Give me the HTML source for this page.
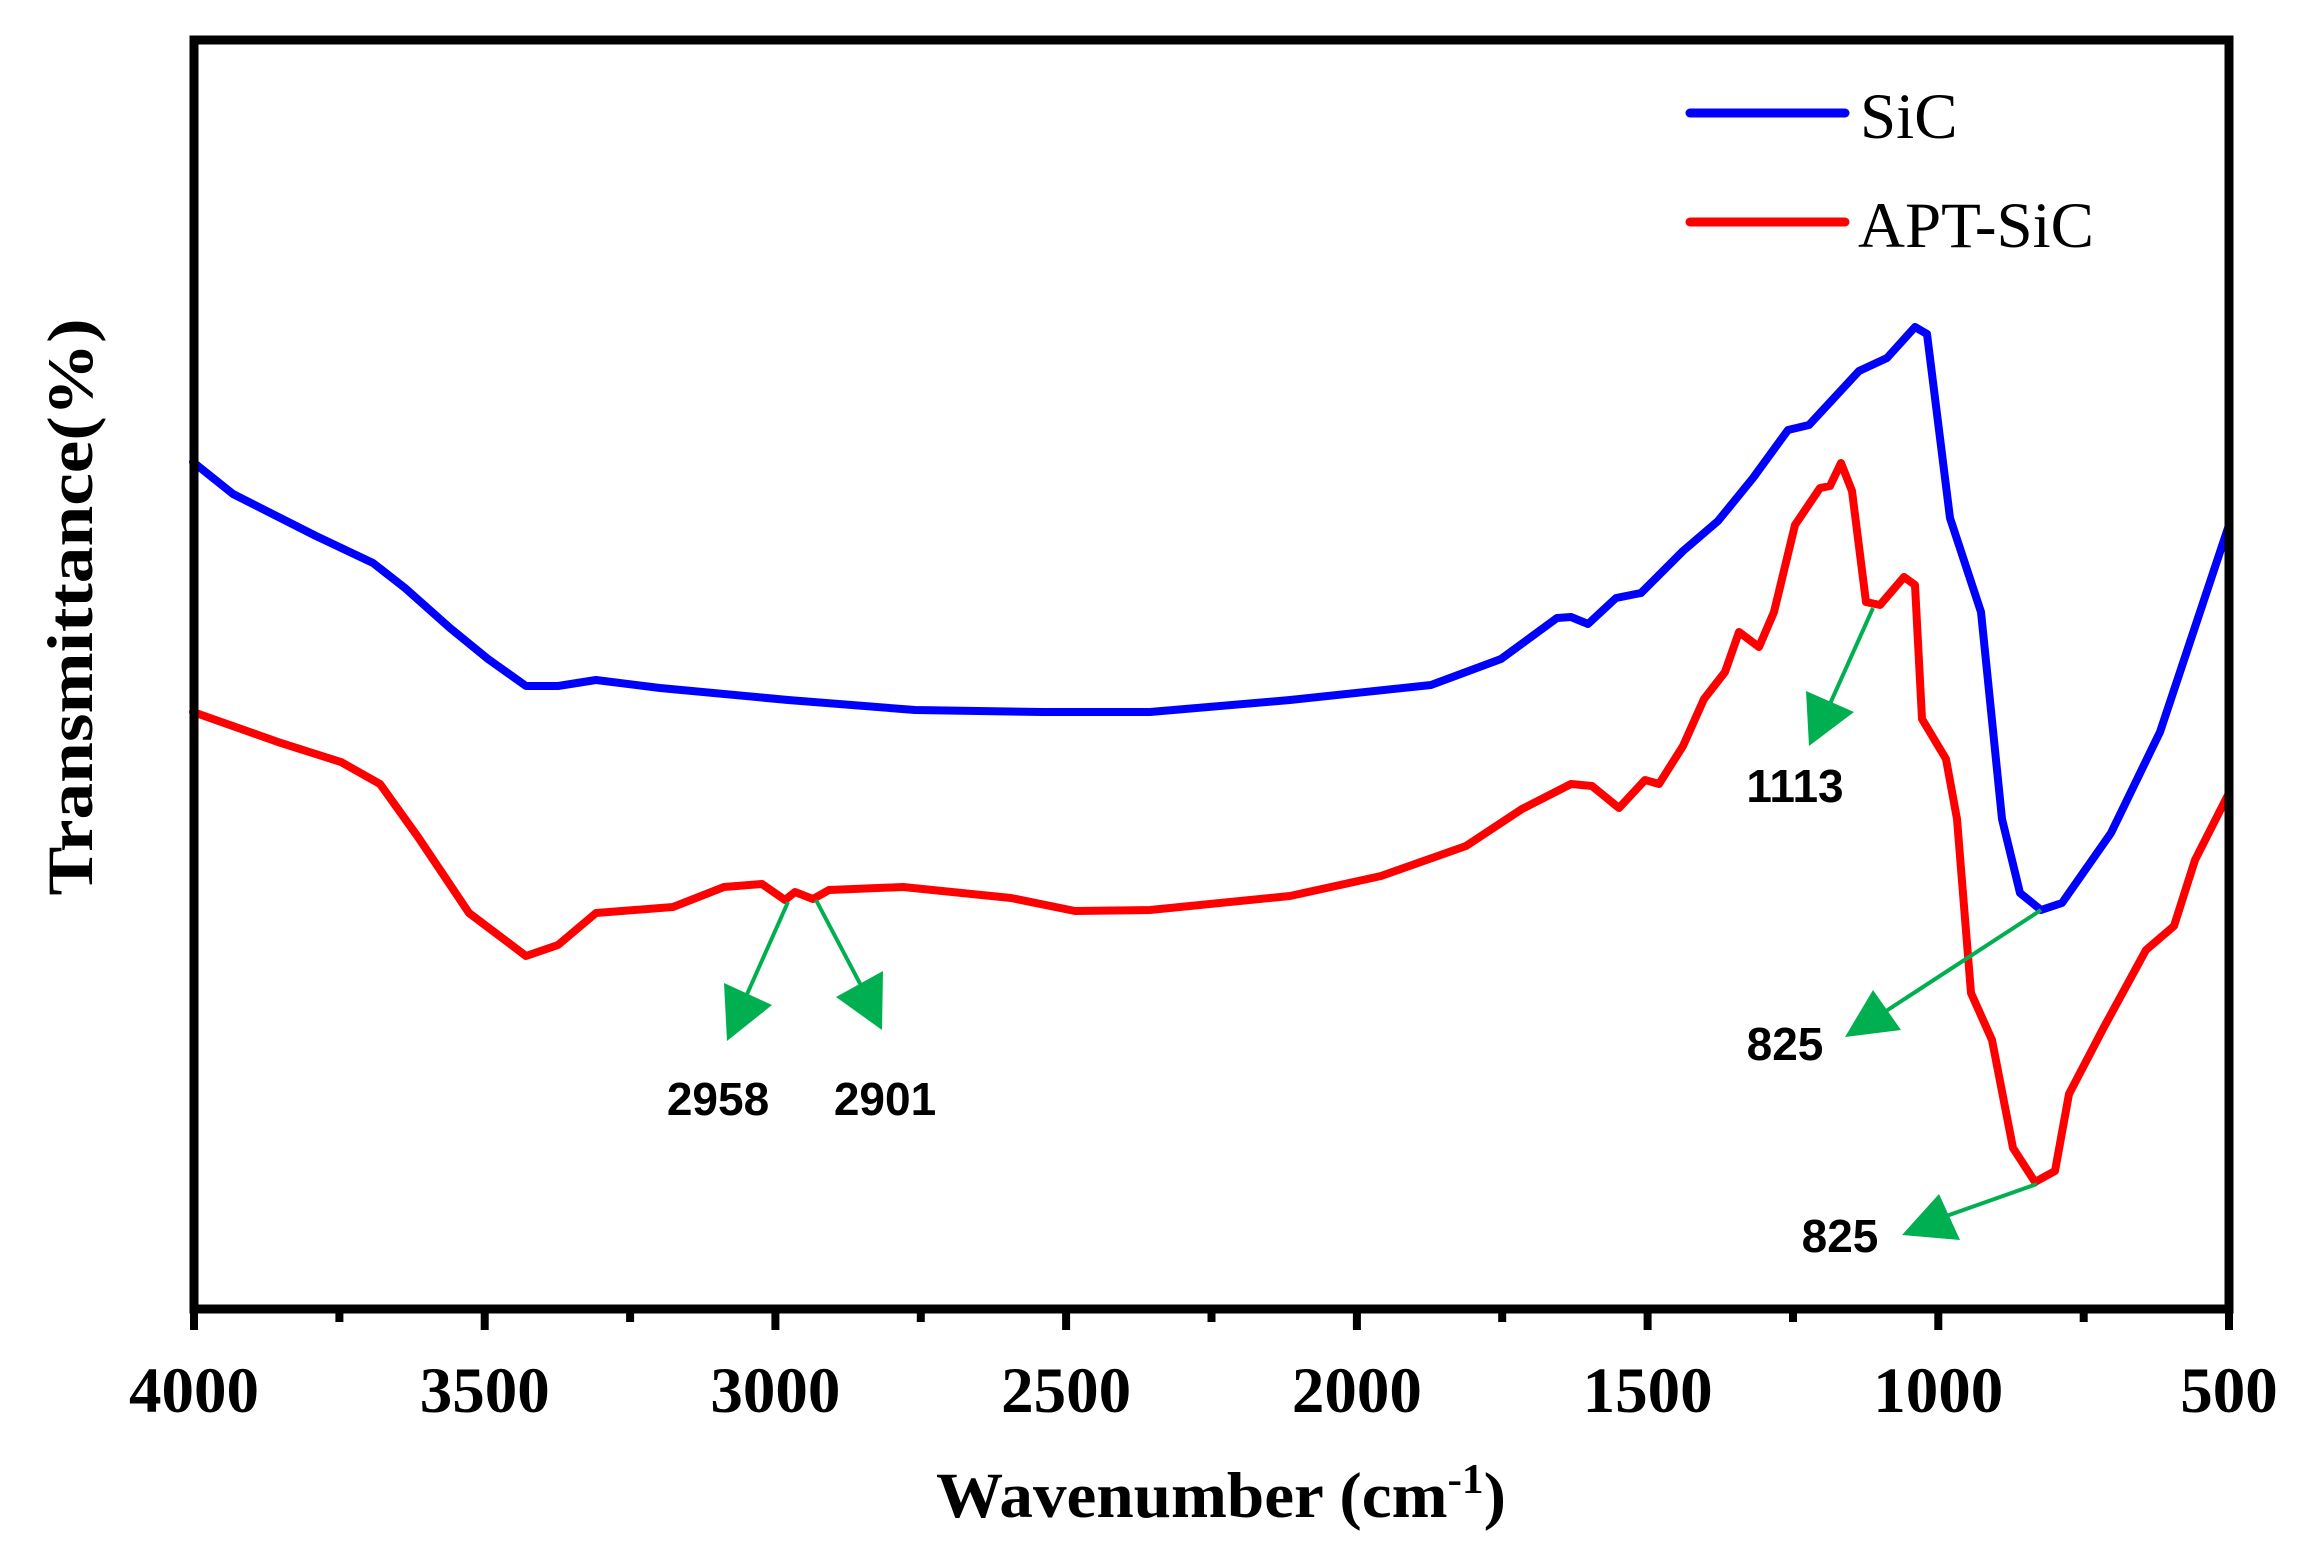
<!DOCTYPE html>
<html><head><meta charset="utf-8"><style>html,body{margin:0;padding:0;background:#fff}svg{display:block}</style></head>
<body>
<svg width="2309" height="1553" viewBox="0 0 2309 1553" xmlns="http://www.w3.org/2000/svg">
<rect width="2309" height="1553" fill="#fff"/>
<!-- curves -->
<polyline fill="none" stroke="#0000ff" stroke-width="8" stroke-linejoin="round" stroke-linecap="round"
points="193,462 233,494 316,536 373,563 405,588 450,628 488,659 526,686 558,686 596,680 660,688 788,700 915,710 1043,712 1150,712 1290,700 1431,685 1501,659 1557,618 1571,617 1588,624 1616,598 1641,593 1683,551 1718,521 1753,478 1788,430 1809,425 1859,371 1887,358 1915,327 1927,334 1950,518 1981,612 2002,819 2020,893 2041,910 2062,903 2111,833 2160,732 2229,525"/>
<polyline fill="none" stroke="#ff0000" stroke-width="8" stroke-linejoin="round" stroke-linecap="round"
points="193,712 278,742 341,762 380,784 418,837 469,913 526,956 558,945 596,913 673,907 724,887 762,884 785,900 795,892 813,899 829,890 903,887 1011,898 1075,911 1150,910 1290,896 1381,876 1466,846 1522,809 1571,784 1592,786 1619,808 1645,780 1659,784 1683,746 1704,699 1725,672 1739,632 1759,647 1774,612 1795,525 1820,488 1830,486 1841,463 1852,491 1866,602 1880,605 1904,577 1915,585 1922,719 1946,759 1957,819 1971,993 1992,1040 2013,1148 2035,1182 2055,1171 2069,1094 2104,1027 2146,950 2174,926 2195,860 2229,793"/>
<!-- arrows -->
<g stroke="#00b050" stroke-width="4" fill="#00b050">
<line x1="788" y1="902" x2="740" y2="1010"/><polygon points="727,1041 724,983 772,1005" stroke="none"/>
<line x1="816" y1="900" x2="866" y2="995"/><polygon points="882,1030 836,997 883,971" stroke="none"/>
<line x1="1873" y1="608" x2="1825" y2="715"/><polygon points="1809,746 1806,691 1854,712" stroke="none"/>
<line x1="2041" y1="910" x2="1880" y2="1015"/><polygon points="1845,1037 1873,990 1901,1030" stroke="none"/>
<line x1="2037" y1="1184" x2="1935" y2="1220"/><polygon points="1902,1235 1939,1194 1960,1240" stroke="none"/>
</g>
<g font-family="'Liberation Sans',Arial,sans-serif" font-weight="bold" font-size="46" text-anchor="middle" fill="#000">
<text x="718" y="1115">2958</text>
<text x="885" y="1115">2901</text>
<text x="1795" y="802">1113</text>
<text x="1785" y="1060">825</text>
<text x="1840" y="1252">825</text>
</g>
<!-- axes -->
<rect x="194" y="40" width="2035" height="1269" fill="none" stroke="#000" stroke-width="9"/>
<g stroke="#000" stroke-width="8">
<line x1="194" y1="1309" x2="194" y2="1330"/><line x1="484.7" y1="1309" x2="484.7" y2="1330"/><line x1="775.4" y1="1309" x2="775.4" y2="1330"/><line x1="1066.1" y1="1309" x2="1066.1" y2="1330"/><line x1="1356.9" y1="1309" x2="1356.9" y2="1330"/><line x1="1647.6" y1="1309" x2="1647.6" y2="1330"/><line x1="1938.3" y1="1309" x2="1938.3" y2="1330"/><line x1="2229" y1="1309" x2="2229" y2="1330"/>
<line x1="339.4" y1="1309" x2="339.4" y2="1322"/><line x1="630.1" y1="1309" x2="630.1" y2="1322"/><line x1="920.8" y1="1309" x2="920.8" y2="1322"/><line x1="1211.5" y1="1309" x2="1211.5" y2="1322"/><line x1="1502.2" y1="1309" x2="1502.2" y2="1322"/><line x1="1793" y1="1309" x2="1793" y2="1322"/><line x1="2083.7" y1="1309" x2="2083.7" y2="1322"/>
</g>
<g font-family="'Liberation Serif','Times New Roman',serif" font-weight="bold" font-size="65" text-anchor="middle" fill="#000">
<text x="194" y="1412">4000</text><text x="484.7" y="1412">3500</text><text x="775.4" y="1412">3000</text><text x="1066.1" y="1412">2500</text><text x="1356.9" y="1412">2000</text><text x="1647.6" y="1412">1500</text><text x="1938.3" y="1412">1000</text><text x="2229" y="1412">500</text>
<text x="1221" y="1517" textLength="570" lengthAdjust="spacingAndGlyphs">Wavenumber  (cm<tspan font-size="42" dy="-24">-1</tspan><tspan dy="24">)</tspan></text>
<text transform="translate(92,607) rotate(-90)" x="0" y="0" textLength="577" lengthAdjust="spacingAndGlyphs">Transmittance(%)</text>
</g>
<!-- legend -->
<line x1="1690" y1="113" x2="1845" y2="113" stroke="#0000ff" stroke-width="9" stroke-linecap="round"/>
<line x1="1690" y1="222" x2="1845" y2="222" stroke="#ff0000" stroke-width="9" stroke-linecap="round"/>
<g font-family="'Liberation Serif','Times New Roman',serif" font-size="65" fill="#000">
<text x="1860" y="138">SiC</text>
<text x="1858" y="247">APT-SiC</text>
</g>
</svg>
</body></html>
